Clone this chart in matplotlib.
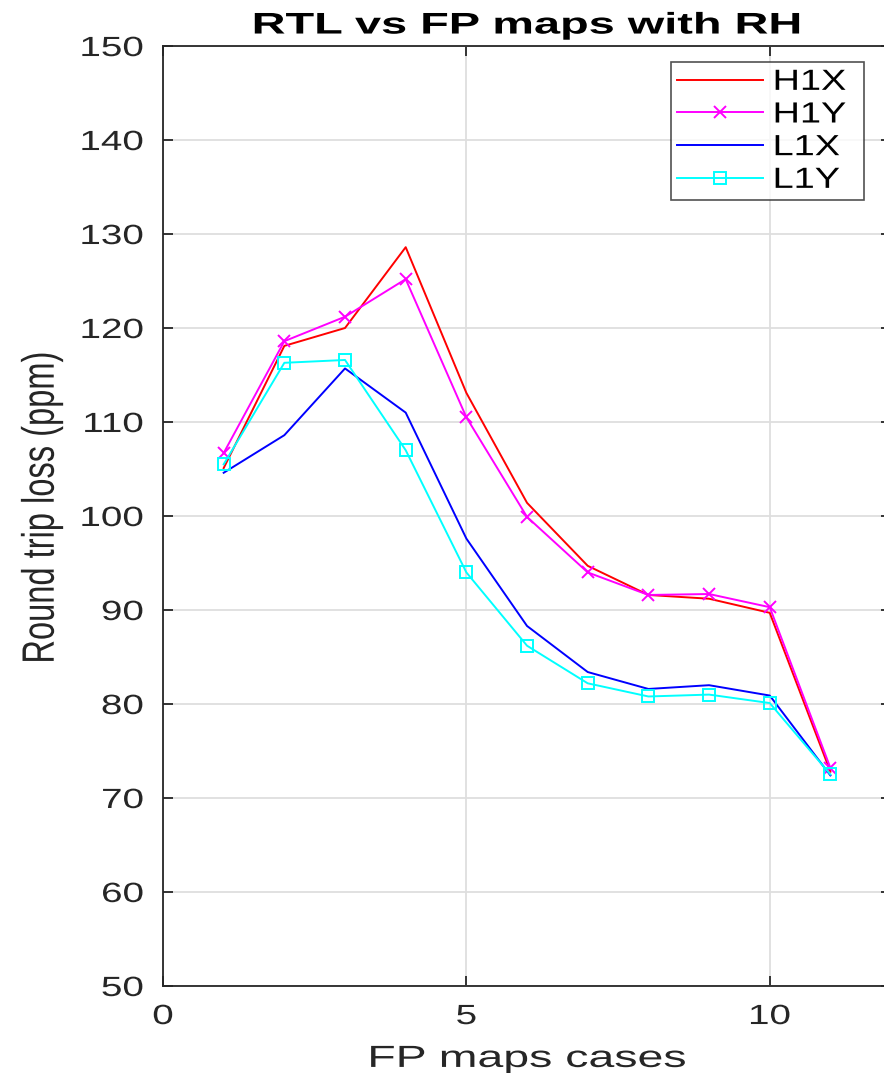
import matplotlib.pyplot as plt
from matplotlib import patheffects
from matplotlib.transforms import Affine2D

plt.rcParams['font.family'] = ['Liberation Sans', 'DejaVu Sans']

cases = [1, 2, 3, 4, 5, 6, 7, 8, 9, 10, 11]
h1x = [105.1, 118.1, 120.0, 128.6, 113.1, 101.4, 94.7, 91.6, 91.2, 89.7, 72.8]
h1y = [106.7, 118.6, 121.2, 125.2, 110.5, 99.9, 94.0, 91.6, 91.7, 90.3, 73.2]
l1x = [104.6, 108.6, 115.7, 111.0, 97.6, 88.3, 83.4, 81.6, 82.0, 80.9, 72.4]
l1y = [105.5, 116.3, 116.6, 107.0, 94.0, 86.2, 82.2, 80.8, 81.0, 80.1, 72.5]


# the reference text looks stretched sideways, so widen the glyphs on draw
class HStretch(patheffects.AbstractPathEffect):
    def __init__(self, sx, anchor='center'):
        super().__init__()
        self.sx = sx
        self.anchor = anchor

    def draw_path(self, renderer, gc, tpath, affine, rgbFace=None):
        ext = tpath.get_extents(affine)
        if self.anchor == 'left':
            cx = ext.x0
        elif self.anchor == 'right':
            cx = ext.x1
        else:
            cx = 0.5 * (ext.x0 + ext.x1)
        tr = affine + Affine2D().translate(-cx, 0).scale(self.sx, 1).translate(cx, 0)
        renderer.draw_path(gc, tpath, tr, rgbFace)


fig = plt.figure(figsize=(8.84, 10.73), dpi=100)
ax = fig.add_axes([0.1844, 0.0811, 0.8236, 0.876])

ax.plot(cases, h1x, color='red', lw=1.4, label='H1X')
ax.plot(cases, h1y, color='magenta', lw=1.4, marker='x', ms=9, mew=1.4, label='H1Y')
ax.plot(cases, l1x, color='blue', lw=1.4, label='L1X')
ax.plot(cases, l1y, color='cyan', lw=1.4, marker='s', ms=8, mfc='none', mew=1.4, label='L1Y')

ax.set_xlim(0, 12)
ax.set_ylim(50, 150)
ax.set_xticks([0, 5, 10])
ax.set_yticks(range(50, 151, 10))
ax.grid(True, color='#dedede', lw=1.3)
ax.set_axisbelow(True)
ax.tick_params(direction='in', top=True, right=True, length=7, width=1.3,
               labelsize=20, colors='#262626')
ax.tick_params(axis='y', pad=14)
ax.tick_params(axis='x', pad=13)
for s in ax.spines.values():
    s.set_color('#262626')
    s.set_linewidth(1.3)

for lbl in ax.get_yticklabels():
    lbl.set_path_effects([HStretch(1.39, 'right')])
for lbl in ax.get_xticklabels():
    lbl.set_path_effects([HStretch(1.39)])

title = ax.set_title('RTL vs FP maps with RH', fontsize=21.5, fontweight='bold', pad=9)
title.set_path_effects([HStretch(1.57)])

xl = ax.set_xlabel('FP maps cases', fontsize=22, color='#262626', labelpad=10)
xl.set_path_effects([HStretch(1.52)])

yl = ax.set_ylabel('Round trip loss (ppm)', fontsize=23.5, color='#262626')
ax.yaxis.set_label_coords(-0.145, 0.509)
yl.set_path_effects([HStretch(1.39)])

leg = ax.legend(loc='upper left', bbox_to_anchor=(0.698, 0.0, 0.265, 0.983),
                mode='expand', fontsize=21, frameon=True, fancybox=False,
                edgecolor='#262626', handlelength=2.95, labelspacing=0.16,
                borderpad=0.2, handletextpad=0.35, borderaxespad=0.0)
leg.get_frame().set_linewidth(1.2)
for t in leg.get_texts():
    t.set_path_effects([HStretch(1.3, 'left')])

fig.savefig('out.png', dpi=100)
